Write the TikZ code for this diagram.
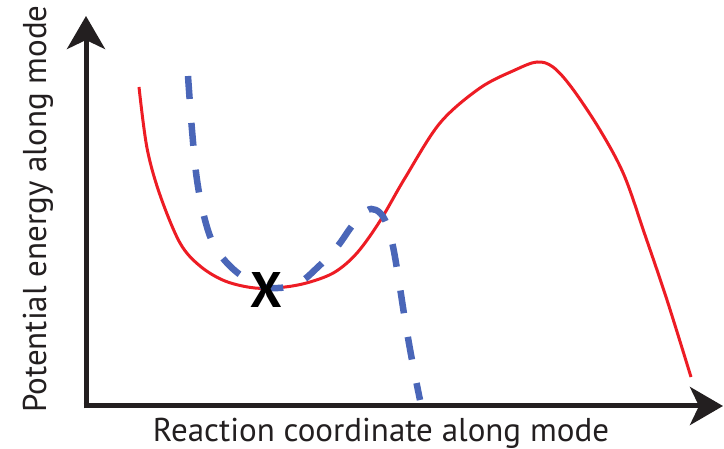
\documentclass[tikz,border=0pt]{standalone}
\usepackage{fontspec}
\setmainfont{PT Sans}
\usetikzlibrary{arrows.meta,positioning}
\definecolor{AxisBlack}{HTML}{231F20}
\definecolor{CurveRed}{HTML}{ED1C24}
\definecolor{ModeBlue}{HTML}{4A66B8}

\begin{document}
\begin{tikzpicture}[
  x=1pt, y=-1pt,
  axis/.style={line width=5pt, AxisBlack, -{Stealth[length=33pt, width=38pt, inset=9pt]}},
  label/.style={font=\fontsize{33}{36}\selectfont, text=AxisBlack, inner sep=0pt},
  pes/.style={line width=3pt, CurveRed, smooth, tension=0.55},
  mode/.style={line width=6.5pt, ModeBlue, dash pattern=on 23pt off 24pt}
]
\useasboundingbox (0,0) rectangle (724,449);
\coordinate (origin) at (86,406);
\coordinate (xend) at (723,406);
\coordinate (yend) at (86,16);
\draw[axis] ([xshift=-2.5pt]origin) -- (xend);
\draw[axis] ([yshift=-2.5pt]origin) -- (yend);
\node[label] (xlab) at (381,433) {Reaction coordinate along mode};
\node[label, rotate=90] (ylab) at (38,209) {Potential energy along mode};
% red curve
\draw[pes] plot coordinates {(139,87) (147,148) (160,195) (180,243) (200,266) (225,281) (255,288)
  (285,287) (310,282) (335,272) (357,253) (380,221) (405,178) (440,123) (480,88)
  (515,70) (537,62) (553,67) (572,88) (600,130) (624,175) (645,235) (667,300) (691,377)};
% blue dashed curve
\draw[mode, smooth, tension=0.6] plot coordinates {(188,76) (192,130) (197,180) (205,220) (215,247)
  (232,268) (252,282) (272,288) (297,284) (318,267) (337,247) (352,226) (366,211)
  (376,210) (385,220) (392,242) (398,275) (405,320) (412,360) (420,400)};
\node[font=\fontsize{50}{50}\selectfont\bfseries, text=black, inner sep=0pt] (minx) at (266,290) {X};
\end{tikzpicture}
\end{document}
